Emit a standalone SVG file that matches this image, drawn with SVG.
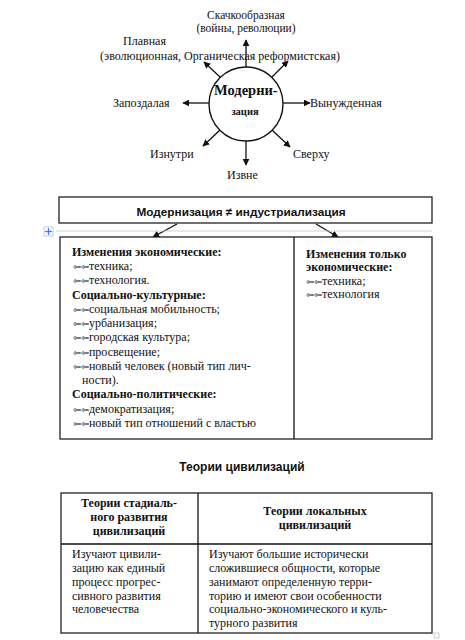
<svg xmlns="http://www.w3.org/2000/svg" width="465" height="640" viewBox="0 0 465 640">
<defs>
<style>
.s{font-family:"Liberation Serif","Times New Roman",serif;font-size:12px;fill:#111}
.t{font-family:"Liberation Serif","Times New Roman",serif;font-size:12px;fill:#111}
.b{font-weight:bold}
.a{font-family:"Liberation Sans",Arial,sans-serif;font-weight:bold;fill:#111}
.bl{font-family:"DejaVu Sans",sans-serif;font-size:9.5px}
.ln{stroke:#111;stroke-width:1.3;fill:none}
.box{fill:#fff;stroke:#222;stroke-width:1.3}
</style>
<marker id="ah" viewBox="0 0 10 10" refX="9" refY="5" markerWidth="7" markerHeight="7" markerUnits="userSpaceOnUse" orient="auto">
<path d="M0,0 L10,5 L0,10 Z" fill="#111"/>
</marker>
</defs>
<rect width="465" height="640" fill="#fff"/>

<g id="connectors">
<line class="ln" x1="246" y1="67" x2="246" y2="40" marker-end="url(#ah)"/>
<line class="ln" x1="246" y1="141" x2="246" y2="165" marker-end="url(#ah)"/>
<line class="ln" x1="209" y1="103" x2="183" y2="103" marker-end="url(#ah)"/>
<line class="ln" x1="283" y1="103" x2="310" y2="103" marker-end="url(#ah)"/>
<line class="ln" x1="220" y1="77" x2="204" y2="62" marker-end="url(#ah)"/>
<line class="ln" x1="272" y1="77" x2="288" y2="61" marker-end="url(#ah)"/>
<line class="ln" x1="220" y1="130" x2="203" y2="146" marker-end="url(#ah)"/>
<line class="ln" x1="272" y1="130" x2="290" y2="147" marker-end="url(#ah)"/>
<line class="ln" x1="177" y1="224" x2="153" y2="237" marker-end="url(#ah)"/>
<line class="ln" x1="316" y1="224" x2="338" y2="237" marker-end="url(#ah)"/>
</g>

<g id="center">
<circle cx="246" cy="104" r="37" fill="#fff" stroke="#111" stroke-width="1.4"/>
<text class="s b" x="214" y="95" style="font-size:14.5px">Модерни-</text>
<text class="s b" x="245" y="115" text-anchor="middle" style="font-size:10.5px">зация</text>
</g>

<g id="labels">
<text class="s" x="246" y="19" text-anchor="middle" style="font-size:11.5px">Скачкообразная</text>
<text class="s" x="246" y="32" text-anchor="middle" style="font-size:11.5px">(войны, революции)</text>
<text class="s" x="123" y="45">Плавная</text>
<text class="s" x="100" y="60">(эволюционная, Органическая реформистская)</text>
<text class="s" x="113" y="107">Запоздалая</text>
<text class="s" x="310" y="107">Вынужденная</text>
<text class="s" x="150" y="158">Изнутри</text>
<text class="s" x="293" y="158">Сверху</text>
<text class="s" x="227" y="179">Извне</text>
</g>

<g id="title-box">
<rect class="box" x="59" y="197" width="373" height="26"/>
<text class="a" x="241" y="216" text-anchor="middle" style="font-size:11.8px">Модернизация ≠ индустриализация</text>
</g>

<g id="move-handle">
<line x1="56" y1="231" x2="432" y2="231" stroke="#c8c8c8" stroke-width="0.8"/>
<rect x="44" y="227" width="9" height="9" fill="#fff" stroke="#9aa8c0" stroke-width="0.6"/>
<path d="M48.5,228.5 V234.5 M45.5,231.5 H51.5 M47.5,229.5 L48.5,228.5 L49.5,229.5 M47.5,233.5 L48.5,234.5 L49.5,233.5 M46.5,230.5 L45.5,231.5 L46.5,232.5 M50.5,230.5 L51.5,231.5 L50.5,232.5" stroke="#2a5cc4" stroke-width="0.8" fill="none"/>
</g>

<g id="modern-table">
<rect class="box" x="60" y="237" width="372" height="202"/>
<line class="ln" x1="294" y1="237" x2="294" y2="439"/>
<text class="t b" x="72" y="256">Изменения экономические:</text>
<text class="t" x="73" y="270"><tspan class="bl">⇦⇦</tspan>техника;</text>
<text class="t" x="73" y="284"><tspan class="bl">⇦⇦</tspan>технология.</text>
<text class="t b" x="72" y="299">Социально-культурные:</text>
<text class="t" x="73" y="313"><tspan class="bl">⇦⇦</tspan>социальная мобильность;</text>
<text class="t" x="73" y="327"><tspan class="bl">⇦⇦</tspan>урбанизация;</text>
<text class="t" x="73" y="341"><tspan class="bl">⇦⇦</tspan>городская культура;</text>
<text class="t" x="73" y="356"><tspan class="bl">⇦⇦</tspan>просвещение;</text>
<text class="t" x="73" y="370"><tspan class="bl">⇦⇦</tspan>новый человек (новый тип лич-</text>
<text class="t" x="82" y="384">ности).</text>
<text class="t b" x="72" y="398">Социально-политические:</text>
<text class="t" x="73" y="413"><tspan class="bl">⇦⇦</tspan>демократизация;</text>
<text class="t" x="73" y="427"><tspan class="bl">⇦⇦</tspan>новый тип отношений с властью</text>
<text class="t b" x="306" y="258">Изменения только</text>
<text class="t b" x="306" y="271">экономические:</text>
<text class="t" x="306" y="285"><tspan class="bl">⇦⇦</tspan>техника;</text>
<text class="t" x="306" y="298"><tspan class="bl">⇦⇦</tspan>технология</text>
</g>

<g id="civ-title">
<text class="a" x="242" y="471" text-anchor="middle" style="font-size:12px">Теории цивилизаций</text>
</g>

<g id="civ-table">
<rect class="box" x="61" y="493" width="371" height="140"/>
<line class="ln" x1="61" y1="544" x2="432" y2="544"/>
<line class="ln" x1="198" y1="493" x2="198" y2="633"/>
<text class="t b" x="129" y="507" text-anchor="middle">Теории стадиаль-</text>
<text class="t b" x="129" y="521" text-anchor="middle">ного развития</text>
<text class="t b" x="129" y="535" text-anchor="middle">цивилизаций</text>
<text class="t b" x="315" y="515" text-anchor="middle">Теории локальных</text>
<text class="t b" x="315" y="529" text-anchor="middle">цивилизаций</text>
<text class="t" x="72" y="558">Изучают цивили-</text>
<text class="t" x="72" y="572">зацию как единый</text>
<text class="t" x="72" y="586">процесс прогрес-</text>
<text class="t" x="72" y="600">сивного развития</text>
<text class="t" x="72" y="613">человечества</text>
<text class="t" x="209" y="558">Изучают большие исторически</text>
<text class="t" x="209" y="572">сложившиеся общности, которые</text>
<text class="t" x="209" y="586">занимают определенную терри-</text>
<text class="t" x="209" y="600">торию и имеют свои особенности</text>
<text class="t" x="209" y="613">социально-экономического и куль-</text>
<text class="t" x="209" y="627">турного развития</text>
<rect x="434" y="633" width="5" height="5" fill="none" stroke="#aaa" stroke-width="0.6"/>
</g>
</svg>
